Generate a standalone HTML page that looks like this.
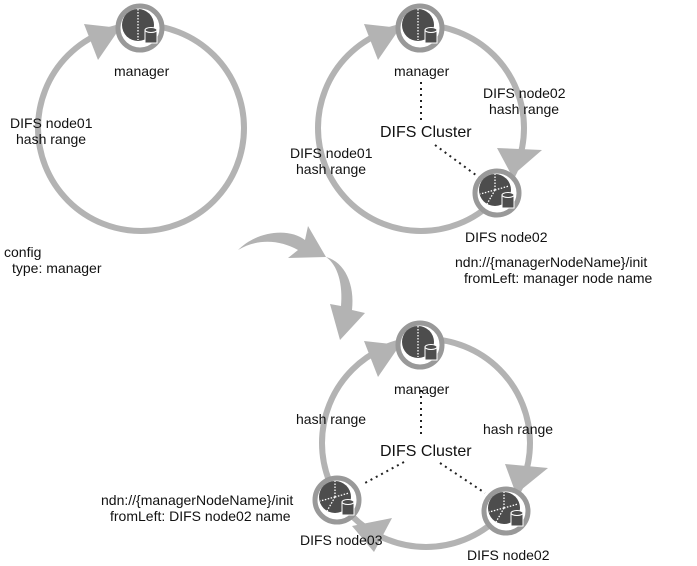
<!DOCTYPE html>
<html><head><style>body{margin:0;background:#fff}svg{display:block}text{font-family:"Liberation Sans","DejaVu Sans",sans-serif;font-size:14px;fill:#111}</style></head><body>
<svg width="697" height="566" viewBox="0 0 697 566" xmlns="http://www.w3.org/2000/svg">
<defs>
<g id="node">
<circle r="22" fill="#fff" stroke="#999" stroke-width="5"/>
<circle cx="-2" cy="-3" r="16" fill="#4d4d4d"/>
<line x1="-2" y1="-19" x2="-2" y2="12" stroke="#fff" stroke-width="1.3" stroke-dasharray="1.5,1.5"/>
<rect x="5" y="2" width="12" height="13" fill="#4d4d4d" stroke="#fff" stroke-width="1"/>
<ellipse cx="11" cy="2" rx="6" ry="2.5" fill="#4d4d4d" stroke="#fff" stroke-width="1"/>
</g>
<g id="node2">
<circle r="22" fill="#fff" stroke="#999" stroke-width="5"/>
<circle cx="-2" cy="-3" r="16" fill="#4d4d4d"/>
<g stroke="#fff" stroke-width="1.3" stroke-dasharray="1.5,1.5">
<line x1="-2" y1="-3" x2="-2" y2="-19"/><line x1="-2" y1="-3" x2="-17" y2="1"/><line x1="-2" y1="-3" x2="-10" y2="11"/><line x1="-2" y1="-3" x2="12" y2="-7"/></g>
<rect x="5" y="2" width="12" height="13" fill="#4d4d4d" stroke="#fff" stroke-width="1"/>
<ellipse cx="11" cy="2" rx="6" ry="2.5" fill="#4d4d4d" stroke="#fff" stroke-width="1"/>
</g>
</defs>
<g fill="none" stroke="#b3b3b3" stroke-width="6">
<circle cx="141" cy="128" r="103"/>
<circle cx="421" cy="128" r="103"/>
<circle cx="426" cy="443" r="104"/>
</g>
<g fill="#b3b3b3">
<polygon points="84,24 120,28 98,60"/>
<polygon points="364,24 400,28 378,60"/>
<polygon points="364,341 400,345 378,377"/>
<polygon points="497,148 542,150 512,176"/>
<polygon points="505,464 548,468 516,494"/>
<polygon points="352,526 392,518 374,552"/>
<path d="M238,250 C258,230 290,228 305,240 L308,226 L326,257 L288,258 L298,250 C280,240 258,238 238,250 Z"/>
<path d="M326,257 C345,262 355,285 352,310 L365,313 L340,340 L330,304 L341,306 C343,285 338,265 326,257 Z"/>
</g>
<g stroke="#222" stroke-width="2" stroke-dasharray="2,4" fill="none">
<line x1="421" y1="82" x2="421" y2="120"/>
<line x1="435" y1="145" x2="480" y2="178"/>
<line x1="421" y1="390" x2="421" y2="438"/>
<line x1="404" y1="462" x2="365" y2="483"/>
<line x1="440" y1="463" x2="485" y2="493"/>
</g>
<use href="#node" x="140" y="28"/>
<use href="#node" x="420" y="28"/>
<use href="#node2" x="497" y="193"/>
<use href="#node" x="420" y="345"/>
<use href="#node2" x="337" y="500"/>
<use href="#node2" x="506" y="511"/>
<text x="114" y="76">manager</text>
<text x="10" y="128">DIFS node01</text>
<text x="16" y="144">hash range</text>
<text x="4" y="257">config</text>
<text x="12" y="273">type: manager</text>
<text x="394" y="76">manager</text>
<text x="483" y="98">DIFS node02</text>
<text x="489" y="114">hash range</text>
<text x="380" y="137" style="font-size:16px">DIFS Cluster</text>
<text x="290" y="158">DIFS node01</text>
<text x="296" y="174">hash range</text>
<text x="465" y="242">DIFS node02</text>
<text x="455" y="267">ndn://{managerNodeName}/init</text>
<text x="464" y="283">fromLeft: manager node name</text>
<text x="394" y="394">manager</text>
<text x="296" y="424">hash range</text>
<text x="483" y="434">hash range</text>
<text x="380" y="456" style="font-size:16px">DIFS Cluster</text>
<text x="101" y="505">ndn://{managerNodeName}/init</text>
<text x="110" y="521">fromLeft: DIFS node02 name</text>
<text x="300" y="545">DIFS node03</text>
<text x="467" y="560">DIFS node02</text>
</svg>
</body></html>
